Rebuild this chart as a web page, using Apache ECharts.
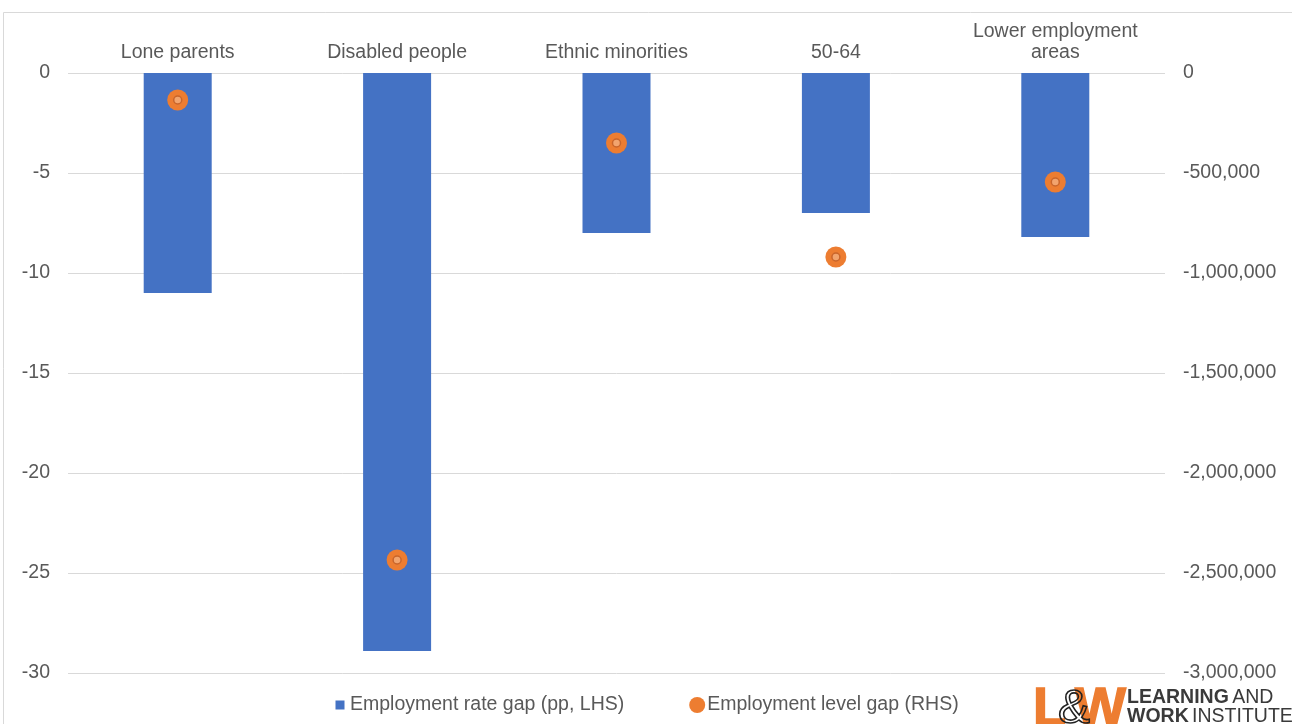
<!DOCTYPE html>
<html>
<head>
<meta charset="utf-8">
<script src="https://cdn.jsdelivr.net/npm/echarts@6/dist/echarts.min.js"></script>
<style>
  html, body { margin: 0; padding: 0; background: #ffffff; }
  #chart { width: 1292px; height: 724px; }
</style>
</head>
<body>
<div id="chart"></div>
<script>
// Groups compared against the overall population
const categories = ['Lone parents', 'Disabled people', 'Ethnic minorities', '50-64', 'Lower employment\nareas'];
// Employment rate gap, percentage points (left axis)
const rateGap = [-11, -28.9, -8, -7, -8.2];
// Employment level gap, people (right axis)
const levelGap = [-135000, -2435000, -350000, -920000, -545000];

const leftTicks = { min: -30, max: 0, interval: 5 };
const rightTicks = { min: -3000000, max: 0, interval: 500000 };

const FONT = '"Liberation Sans", Arial, sans-serif';
const TEXT = '#595959';
const BLUE = '#4472C4';
const ORANGE = '#ED7D31';
const FS = 19.5;

// legend icons drawn inside a 16x16 box so the square stays small
const SQUARE_ICON = 'path://M0,0L0.001,0L0,0.001Z M16,16L15.999,16L16,15.999Z M3.5,3.5H12.5V12.5H3.5Z';

const chart = echarts.init(document.getElementById('chart'));
chart.setOption({
  backgroundColor: '#ffffff',
  animation: false,
  textStyle: { fontFamily: FONT },
  grid: { left: 68, right: 127, top: 73, bottom: 51 },
  legend: {
    bottom: 4,
    left: 327,
    itemGap: 65,
    itemWidth: 16,
    itemHeight: 16,
    textStyle: { fontSize: FS, color: TEXT, fontFamily: FONT, padding: [0, 0, 0, -3] },
    data: [
      { name: 'Employment rate gap (pp, LHS)', icon: SQUARE_ICON },
      { name: 'Employment level gap (RHS)', icon: 'circle' }
    ]
  },
  xAxis: {
    type: 'category',
    position: 'top',
    data: categories,
    axisLine: { show: false },
    axisTick: { show: false },
    axisLabel: { color: TEXT, fontSize: FS, margin: 10, lineHeight: 21, fontFamily: FONT, interval: 0 }
  },
  yAxis: [
    {
      type: 'value',
      min: leftTicks.min, max: leftTicks.max, interval: leftTicks.interval,
      axisLine: { show: false },
      axisTick: { show: false },
      axisLabel: { color: TEXT, fontSize: FS, margin: 18, fontFamily: FONT, padding: [4, 0, 0, 0] },
      splitLine: { lineStyle: { color: '#d9d9d9', width: 1 } }
    },
    {
      type: 'value',
      position: 'right',
      min: rightTicks.min, max: rightTicks.max, interval: rightTicks.interval,
      axisLine: { show: false },
      axisTick: { show: false },
      splitLine: { show: false },
      axisLabel: {
        color: TEXT, fontSize: FS, margin: 18, fontFamily: FONT, padding: [4, 0, 0, 0],
        formatter: v => v.toLocaleString('en-US')
      }
    }
  ],
  series: [
    {
      name: 'Employment rate gap (pp, LHS)',
      type: 'bar',
      yAxisIndex: 0,
      barWidth: 68,
      data: rateGap,
      itemStyle: { color: BLUE }
    },
    {
      name: 'Employment level gap (RHS)',
      type: 'scatter',
      yAxisIndex: 1,
      symbol: 'circle',
      symbolSize: 21,
      data: levelGap,
      itemStyle: { color: ORANGE, opacity: 1 },
      z: 3
    },
    {
      // inner ring of each level-gap marker
      name: 'ring',
      type: 'scatter',
      yAxisIndex: 1,
      symbol: 'circle',
      symbolSize: 8,
      data: levelGap,
      silent: true,
      itemStyle: { color: '#F2A46E', borderColor: '#C9652B', borderWidth: 1.5, opacity: 1 },
      z: 4
    }
  ],
  graphic: [
    {
      type: 'rect',
      shape: { x: 3.5, y: 12.5, width: 1300, height: 720 },
      style: { fill: 'none', stroke: '#d9d9d9', lineWidth: 1 },
      silent: true
    },
    // L&W logo
    {
      type: 'text', x: 1033, y: 683, z: 10,
      style: { text: 'L', font: 'bold 54px "Liberation Sans", Arial, sans-serif', fill: ORANGE, stroke: ORANGE, lineWidth: 1.5 }
    },
    {
      type: 'text', x: 1075, y: 683, z: 10,
      style: { text: 'W', font: 'bold 54px "Liberation Sans", Arial, sans-serif', fill: ORANGE, stroke: ORANGE, lineWidth: 1.5 }
    },
    {
      type: 'text', x: 1058, y: 686, z: 11,
      style: { text: '&', font: '48px "Liberation Sans", Arial, sans-serif', fill: 'none', stroke: '#222222', lineWidth: 1.6 }
    },
    {
      type: 'text', x: 1127, y: 688, z: 10,
      style: {
        text: '{b|LEARNING} {r|AND}\n{b|WORK} {r|INSTITUTE}',
        rich: {
          b: { font: 'bold 19.5px "Liberation Sans", Arial, sans-serif', fill: '#3a3a3a', lineHeight: 19 },
          r: { font: '19.5px "Liberation Sans", Arial, sans-serif', fill: '#3a3a3a', lineHeight: 19 }
        }
      }
    }
  ]
});
</script>
</body>
</html>
